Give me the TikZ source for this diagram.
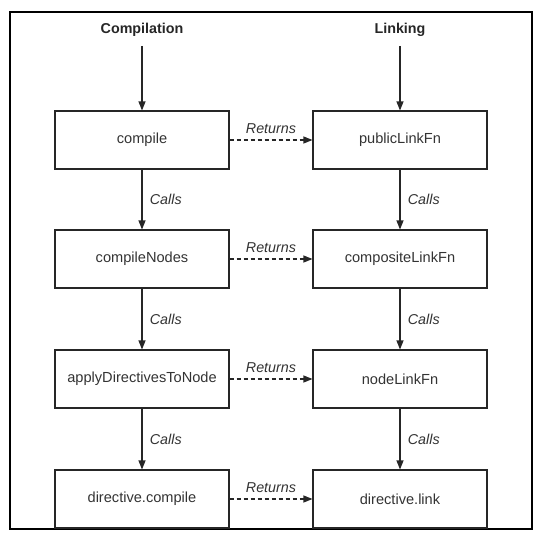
\documentclass[tikz,border=0pt]{standalone}
\usepackage{fontspec}
\setmainfont{Liberation Sans}
\usetikzlibrary{arrows.meta}
\definecolor{ink}{gray}{0.2}
\begin{document}
\begin{tikzpicture}[x=1pt,y=-1pt,
  fn/.style={draw=black!85, line width=1.1pt, minimum width=174pt, minimum height=58pt, inner sep=0pt, text=ink, font=\fontsize{14.6}{16}\selectfont},
  hdr/.style={text=black!85, font=\fontsize{14.3}{16}\selectfont\bfseries},
  lbl/.style={text=ink, font=\fontsize{14.3}{16}\selectfont\itshape},
  call/.style={draw=black!85, line width=1.1pt, -{Triangle[length=9pt,width=7pt]}},
  ret/.style={draw=black!85, line width=1.1pt, dash pattern=on 4pt off 3pt, -{Triangle[length=9pt,width=7pt]}}]
\useasboundingbox (0,0) rectangle (545,543);
\draw[line width=1.2pt] (10,12) rectangle (532,529);

\node[hdr] (hc) at (142,30) {Compilation};
\node[hdr] (hl) at (400,30) {Linking};
\coordinate (tc) at (142,46);
\coordinate (tl) at (400,46);

\node[fn] (c1) at (142,140) {compile};
\node[fn] (c2) at (142,259) {compileNodes};
\node[fn] (c3) at (142,379) {applyDirectivesToNode};
\node[fn] (c4) at (142,499) {directive.compile};

\node[fn] (l1) at (400,140) {publicLinkFn};
\node[fn] (l2) at (400,259) {compositeLinkFn};
\node[fn] (l3) at (400,379) {nodeLinkFn};
\node[fn] (l4) at (400,499) {directive.link};

\draw[call] (tc) -- (c1);
\draw[call] (tl) -- (l1);

\foreach \a/\b in {c1/c2,c2/c3,c3/c4,l1/l2,l2/l3,l3/l4}{
  \draw[call] (\a) -- node[lbl, anchor=west, xshift=4pt] {Calls} (\b);
}
\foreach \a/\b in {c1/l1,c2/l2,c3/l3,c4/l4}{
  \draw[ret] (\a) -- node[lbl, above, yshift=2pt] {Returns} (\b);
}
\end{tikzpicture}
\end{document}
